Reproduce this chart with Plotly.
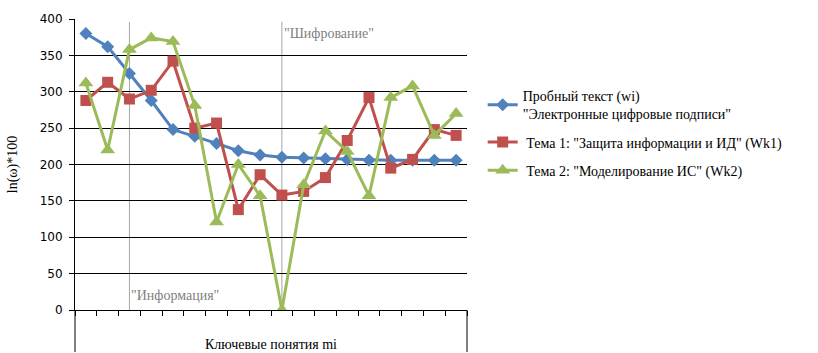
import plotly.graph_objects as go

# Key concepts m_i (x positions 1..18)
concepts = list(range(1, 19))

# ln(ω)*100 for the sample text and the two topics
sample_text = [380, 362, 325, 288, 248, 239, 229, 219, 213, 210, 209, 208, 207, 206, 206, 206, 206, 206]
topic1 = [288, 313, 290, 302, 342, 250, 257, 138, 186, 158, 163, 182, 233, 292, 195, 207, 248, 240]
topic2 = [312, 220, 358, 374, 369, 281, 121, 200, 157, 0, 172, 246, 218, 157, 292, 308, 240, 270]

series_names = [
    'Пробный текст (wi)<br>"Электронные цифровые подписи"',
    ' Тема 1: "Защита информации и ИД" (Wk1)',
    ' Тема 2: "Моделирование ИС" (Wk2)',
]
yticks = [0, 50, 100, 150, 200, 250, 300, 350, 400]

# Marked concepts and their labels
marked_x = [3, 10]
marked_labels = ['"Информация"', '"Шифрование"']

BLUE, RED, GREEN = "#4F81BD", "#C0504D", "#9BBB59"
SERIF = "Liberation Serif"

fig = go.Figure()
fig.add_trace(go.Scatter(
    x=concepts, y=sample_text, mode="lines+markers", name=series_names[0],
    legendgroup="a",
    line=dict(color=BLUE, width=3),
    marker=dict(symbol="diamond", size=10, color=BLUE),
))
fig.add_trace(go.Scatter(
    x=concepts, y=topic1, mode="lines+markers", name=series_names[1],
    legendgroup="b",
    line=dict(color=RED, width=3),
    marker=dict(symbol="square", size=11, color=RED),
))
fig.add_trace(go.Scatter(
    x=concepts, y=topic2, mode="lines+markers", name=series_names[2],
    legendgroup="c",
    line=dict(color=GREEN, width=3),
    marker=dict(symbol="triangle-up", size=13, color=GREEN),
))

# Thin vertical markers for the highlighted concepts
for xv in marked_x:
    fig.add_shape(type="line", xref="x", yref="paper", x0=xv, x1=xv, y0=0, y1=0.99,
                  line=dict(color="#A6A6A6", width=1), layer="below")

fig.add_annotation(x=marked_x[0], y=20, xref="x", yref="y", text=marked_labels[0],
                   showarrow=False, xanchor="left", yanchor="middle",
                   font=dict(family=SERIF, size=14, color="#7F7F7F"))
fig.add_annotation(x=marked_x[1], y=380, xref="x", yref="y", text=marked_labels[1],
                   showarrow=False, xanchor="left", yanchor="middle",
                   font=dict(family=SERIF, size=14, color="#7F7F7F"))

# Box under the category axis holding the axis title
plot_h = 353 - 12 - 43
for xp in [0, 1]:
    fig.add_shape(type="line", xref="paper", yref="paper", x0=xp, x1=xp,
                  y0=0, y1=-43 / plot_h, line=dict(color="#000000", width=1))

fig.add_annotation(x=0.5, y=-35 / plot_h, xref="paper", yref="paper",
                   text="Ключевые понятия mi", showarrow=False,
                   xanchor="center", yanchor="middle",
                   font=dict(family=SERIF, size=14, color="#000000"))

fig.update_layout(
    width=818, height=353,
    margin=dict(l=73, r=351, t=12, b=43),
    paper_bgcolor="white", plot_bgcolor="white",
    showlegend=True,
    legend=dict(
        x=1.04, y=0.79, xanchor="left", yanchor="top",
        font=dict(family=SERIF, size=14, color="#000000"),
        bgcolor="rgba(0,0,0,0)", tracegroupgap=7, itemwidth=30,
    ),
    xaxis=dict(
        range=[0.5, 18.5], showgrid=False, zeroline=False,
        tickmode="array", tickvals=[i + 0.5 for i in range(0, 19)],
        showticklabels=False, ticks="outside", ticklen=5, tickcolor="#000000",
        showline=True, linecolor="#000000", linewidth=1,
    ),
    yaxis=dict(
        range=[0, 400], tickvals=yticks, showgrid=True, gridcolor="#000000", gridwidth=1,
        zeroline=False, showline=True, linecolor="#000000", linewidth=1,
        ticks="outside", ticklen=5, tickcolor="#000000", ticklabelstandoff=4,
        tickfont=dict(family="DejaVu Sans", size=12, color="#000000"),
        title=dict(text="ln(ω)*100", font=dict(family=SERIF, size=14, color="#000000"),
                   standoff=18),
    ),
)

fig.write_html("out.html")
